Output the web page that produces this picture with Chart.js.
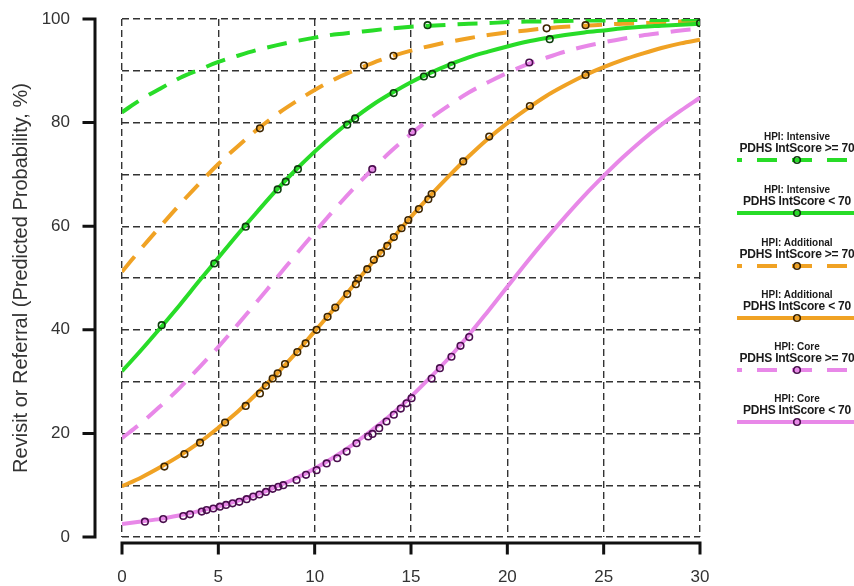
<!DOCTYPE html>
<html><head><meta charset="utf-8">
<script src="https://cdn.jsdelivr.net/npm/chart.js@4.4.1/dist/chart.umd.min.js"></script>
<style>
html,body{margin:0;padding:0;background:#fff;}
#wrap{position:relative;width:854px;height:586px;overflow:hidden;background:#fff;}
#c{position:absolute;left:0;top:0;}
.lg{position:absolute;left:737px;width:120px;text-align:center;font-family:"Liberation Sans",Arial,sans-serif;color:#1a1a1a;}
.l1{font-size:10px;font-weight:bold;line-height:11px;height:11px;white-space:nowrap;}
.l2{font-size:12px;font-weight:bold;line-height:12px;height:12px;white-space:nowrap;letter-spacing:-0.2px;}
.lg svg{display:block;}
</style></head>
<body>
<div id="wrap">
<canvas id="c" width="854" height="586"></canvas>
<div id="legend"></div>
</div>
<script>
// ---- data ----
const xs = [0,1,2,3,4,5,6,7,8,9,10,11,12,13,14,15,16,17,18,19,20,21,22,23,24,25,26,27,28,29,30];

const intensiveHigh = [82.0,84.5,86.6,88.6,90.2,91.7,92.9,94.0,94.9,95.7,96.4,97.0,97.4,97.8,98.2,98.5,98.7,98.9,99.1,99.2,99.4,99.5,99.5,99.6,99.7,99.7,99.8,99.8,99.8,99.9,99.9];
const intensiveLow = [32.0,36.1,40.4,44.8,49.4,53.9,58.4,62.7,66.9,70.8,74.4,77.7,80.7,83.4,85.7,87.8,89.6,91.2,92.6,93.7,94.7,95.6,96.3,96.9,97.4,97.8,98.2,98.5,98.7,98.9,99.1];
const additionalHigh = [51.2,55.7,60.0,64.2,68.2,72.0,75.4,78.6,81.5,84.0,86.3,88.3,90.0,91.5,92.8,93.9,94.8,95.6,96.3,96.9,97.4,97.8,98.2,98.5,98.7,98.9,99.1,99.2,99.4,99.5,99.6];
const additionalLow = [9.8,11.5,13.5,15.7,18.2,21.1,24.2,27.7,31.4,35.4,39.7,44.0,48.5,53.0,57.4,61.8,65.9,69.8,73.5,76.9,79.9,82.6,85.1,87.2,89.1,90.7,92.1,93.3,94.4,95.3,96.0];
const coreHigh = [19.1,22.0,25.3,28.8,32.7,36.7,41.0,45.4,49.9,54.4,58.8,63.1,67.2,71.0,74.6,77.8,80.8,83.4,85.8,87.8,89.6,91.2,92.5,93.7,94.7,95.5,96.2,96.8,97.3,97.8,98.1];
const coreLow = [2.5,3.0,3.5,4.2,5.0,5.9,7.0,8.2,9.7,11.3,13.2,15.4,17.9,20.7,23.7,27.1,30.8,34.7,39.0,43.6,48.3,53.0,57.5,61.8,65.9,69.7,73.3,76.6,79.6,82.3,84.8];

const intensiveHighPtsX = [15.86];
const intensiveHighPtsY = [98.8];
const intensiveLowPtsX = [2.06,4.79,6.42,8.08,8.5,9.13,11.69,12.1,14.1,15.67,16.1,17.1,22.2,30];
const intensiveLowPtsY = [40.9,52.8,59.9,67.1,68.6,71.0,79.6,80.8,85.7,88.9,89.4,91.0,96.1,99.2];
const additionalHighPtsX = [7.16,12.56,14.09,22.04,24.06];
const additionalHighPtsY = [78.9,91.0,92.9,98.2,98.8];
const additionalLowPtsX = [2.2,3.24,4.05,5.35,6.42,7.16,7.47,7.82,8.08,8.46,9.1,9.53,10.1,10.67,11.07,11.69,12.14,12.26,12.73,13.07,13.44,13.77,14.11,14.51,14.86,15.41,15.9,16.07,17.71,19.06,21.17,24.06];
const additionalLowPtsY = [13.6,16.0,18.2,22.1,25.3,27.7,29.2,30.6,31.6,33.4,35.7,37.4,40.0,42.5,44.3,46.9,48.8,49.9,51.7,53.5,54.8,56.2,57.9,59.6,61.2,63.3,65.2,66.2,72.5,77.3,83.2,89.2];
const coreHighPtsX = [12.99,15.07,21.14];
const coreHighPtsY = [71.0,78.2,91.6];
const coreLowPtsX = [1.19,2.14,3.18,3.53,4.14,4.39,4.74,5.08,5.4,5.74,6.09,6.47,6.81,7.13,7.47,7.82,8.11,8.37,9.06,9.55,10.1,10.62,11.17,11.66,12.17,12.78,13.0,13.35,13.73,14.11,14.47,14.77,15.03,16.07,16.5,17.1,17.57,18.02];
const coreLowPtsY = [2.96,3.47,4.05,4.38,4.9,5.2,5.5,5.85,6.2,6.5,6.8,7.3,7.8,8.2,8.7,9.3,9.7,10.0,11.0,12.0,12.9,14.2,15.2,16.5,18.1,19.4,19.9,21.0,22.3,23.6,24.8,25.8,26.8,30.6,32.6,34.8,36.9,38.6];

const xTicks = [0,5,10,15,20,25,30];
const yTickLabels = [0,20,40,60,80,100];

const legendTitles = ['HPI: Intensive','HPI: Intensive','HPI: Additional','HPI: Additional','HPI: Core','HPI: Core'];
const legendSubs = ['PDHS IntScore >= 70','PDHS IntScore < 70','PDHS IntScore >= 70','PDHS IntScore < 70','PDHS IntScore >= 70','PDHS IntScore < 70'];

// ---- styles ----
const GREEN = '#28dc28', ORANGE = '#f0a224', VIOLET = '#e888e8';
const series = [
  {curve: intensiveHigh, px: intensiveHighPtsX, py: intensiveHighPtsY, color: GREEN, mark: '#0d3d0d', dash: true},
  {curve: intensiveLow, px: intensiveLowPtsX, py: intensiveLowPtsY, color: GREEN, mark: '#0d3d0d', dash: false},
  {curve: additionalHigh, px: additionalHighPtsX, py: additionalHighPtsY, color: ORANGE, mark: '#3d2500', dash: true},
  {curve: additionalLow, px: additionalLowPtsX, py: additionalLowPtsY, color: ORANGE, mark: '#3d2500', dash: false},
  {curve: coreHigh, px: coreHighPtsX, py: coreHighPtsY, color: VIOLET, mark: '#4a0e4e', dash: true},
  {curve: coreLow, px: coreLowPtsX, py: coreLowPtsY, color: VIOLET, mark: '#4a0e4e', dash: false}
];
const DASH = [20, 12];

const datasets = [];
series.forEach((s, i) => {
  datasets.push({
    type: 'line', label: legendTitles[i] + ' ' + legendSubs[i],
    data: xs.map((x, k) => ({x, y: s.curve[k]})),
    borderColor: s.color, borderWidth: 4, borderDash: s.dash ? DASH : [],
    pointRadius: 0, tension: 0.35, fill: false, order: 2
  });
  datasets.push({
    type: 'scatter', label: 'pts' + i,
    data: s.px.map((x, k) => ({x, y: s.py[k]})),
    pointRadius: 3.3, pointBorderWidth: 1.6, pointBorderColor: s.mark,
    pointBackgroundColor: 'rgba(0,0,0,0)', showLine: false, order: 1
  });
});

const detachedAxes = {
  id: 'detachedAxes',
  afterDraw(chart) {
    const {ctx, chartArea, scales: {x, y}} = chart;
    ctx.save();
    ctx.strokeStyle = '#111';
    ctx.lineWidth = 3;
    ctx.lineCap = 'square';
    const ax = chartArea.left - 27;
    ctx.beginPath();
    ctx.moveTo(ax, y.getPixelForValue(0));
    ctx.lineTo(ax, y.getPixelForValue(100));
    yTickLabels.forEach(v => { const py = y.getPixelForValue(v); ctx.moveTo(ax, py); ctx.lineTo(ax - 11, py); });
    const ay = chartArea.bottom + 6;
    ctx.moveTo(x.getPixelForValue(0), ay);
    ctx.lineTo(x.getPixelForValue(30), ay);
    xTicks.forEach(v => { const px = x.getPixelForValue(v); ctx.moveTo(px, ay); ctx.lineTo(px, ay + 10); });
    ctx.stroke();
    ctx.restore();
  }
};

const FONT = '"Liberation Sans", Arial, sans-serif';
new Chart(document.getElementById('c'), {
  data: {datasets},
  options: {
    responsive: false, animation: false, devicePixelRatio: 1,
    layout: {padding: {left: 0, top: 19, right: 154, bottom: 0}},
    plugins: {legend: {display: false}, tooltip: {enabled: false}},
    scales: {
      x: {
        type: 'linear', min: 0, max: 30,
        afterFit: s => { s.height = 49; },
        ticks: {stepSize: 5, padding: 0, color: '#333', font: {family: FONT, size: 17}, maxRotation: 0},
        grid: {color: '#333', lineWidth: 1.4, drawTicks: true, tickLength: 30, tickColor: 'rgba(0,0,0,0)'},
        border: {display: false, dash: [7, 4]}
      },
      y: {
        type: 'linear', min: 0, max: 100,
        afterFit: s => { s.width = 122; },
        ticks: {stepSize: 10, padding: 0, color: '#333', font: {family: FONT, size: 17},
          callback: v => yTickLabels.includes(v) ? String(v) : ''},
        grid: {color: '#333', lineWidth: 1.4, drawTicks: true, tickLength: 52, tickColor: 'rgba(0,0,0,0)'},
        border: {display: false, dash: [7, 4]},
        title: {display: true, text: 'Revisit or Referral (Predicted Probability, %)', color: '#333',
          font: {family: FONT, size: 20}, padding: {top: 9, bottom: 0}}
      }
    }
  },
  plugins: [detachedAxes]
});

// ---- HTML legend ----
const legendY = [160, 213, 266, 318, 370, 422];
const lg = document.getElementById('legend');
series.forEach((s, i) => {
  const d = document.createElement('div');
  d.className = 'lg';
  d.style.top = (legendY[i] - 29) + 'px';
  const dash = s.dash ? 'stroke-dasharray="20 15" stroke-dashoffset="-20"' : '';
  d.innerHTML = '<div class="l1">' + legendTitles[i] + '</div><div class="l2">' +
    legendSubs[i].replace(/</g, '&lt;').replace(/>/g, '&gt;') + '</div>' +
    '<svg width="120" height="12"><line x1="0" y1="6" x2="120" y2="6" stroke="' + s.color + '" stroke-width="4" ' + dash + '/>' +
    '<circle cx="60" cy="6" r="3.3" fill="none" stroke="' + s.mark + '" stroke-width="1.6"/></svg>';
  lg.appendChild(d);
});
</script>
</body></html>
